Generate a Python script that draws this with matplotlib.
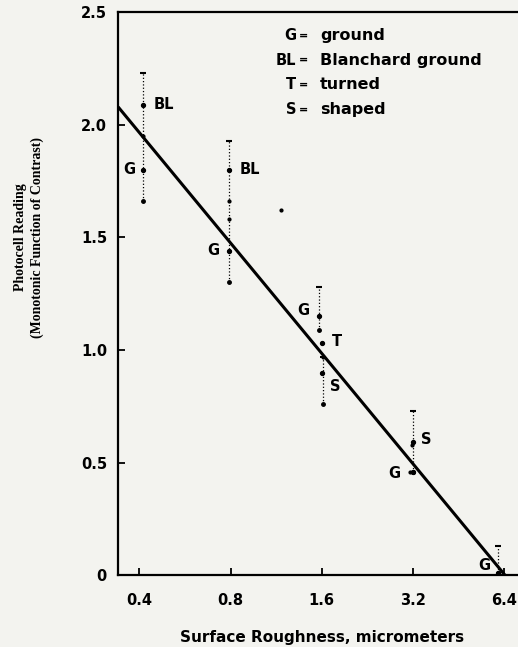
import numpy as np
import matplotlib.pyplot as plt

fit_x = [0.34, 6.45]
fit_y = [2.08, 0.0]

# Streubereiche je Gruppe
range_x = [0.41, 0.79, 1.57, 1.62, 3.2, 6.1]
range_lo = [1.66, 1.30, 1.09, 0.76, 0.46, 0.01]
range_hi = [2.23, 1.93, 1.28, 0.97, 0.73, 0.13]

# beschriftete Mittelwerte
pt_x = [0.41, 0.41, 0.79, 0.79, 1.57, 1.60, 1.60, 3.2, 3.2, 6.1]
pt_y = [2.09, 1.80, 1.80, 1.44, 1.15, 1.03, 0.90, 0.59, 0.46, 0.01]
pt_lab = ["BL", "G", "BL", "G", "G", "T", "S", "S", "G", "G"]
pt_off = [(8, 0), (-5, 0), (8, 0), (-7, 0), (-7, 4), (7, 1), (6, -10),
          (6, 2), (-9, -1), (-5, 5)]

# weitere Einzelpunkte
extra_x = [0.41, 0.79, 0.79, 1.17, 1.62, 3.17, 3.14]
extra_y = [1.95, 1.66, 1.58, 1.62, 0.97, 0.58, 0.46]

legend_codes = ["G", "BL", "T", "S"]
legend_names = ["ground", "Blanchard ground", "turned", "shaped"]

xticks = [0.4, 0.8, 1.6, 3.2, 6.4]
yticks = [0, 0.5, 1.0, 1.5, 2.0, 2.5]

sans = 'DejaVu Sans'
bg = '#f3f3ef'
fig = plt.figure(figsize=(5.18, 6.47), dpi=100, facecolor=bg)
ax = fig.add_axes([0.228, 0.111, 0.772, 0.870], facecolor=bg)

ax.set_xscale('log', base=2)
ax.set_xlim(0.34, 7.12)
ax.set_ylim(0, 2.5)

ax.plot(fit_x, fit_y, color='black', linewidth=2.2, solid_capstyle='butt')
ax.vlines(range_x, range_lo, range_hi, colors='black', linestyles=':', linewidth=0.9)
ax.plot(range_x, range_hi, '_', color='black', markersize=5, markeredgewidth=1.5)
ax.plot(range_x, range_lo, 'o', color='black', markersize=2.5)
ax.plot(pt_x, pt_y, 'o', color='black', markersize=2.8)
ax.plot(extra_x, extra_y, 'o', color='black', markersize=2.0)

for x, y, lab, off in zip(pt_x, pt_y, pt_lab, pt_off):
    ax.annotate(lab, (x, y), xytext=off, textcoords='offset points',
                ha='left' if off[0] > 0 else 'right', va='center',
                fontsize=10.5, fontweight='bold', family=sans)

# Legende als Text
for i, (c, n) in enumerate(zip(legend_codes, legend_names)):
    yy = 0.959 - i * 0.044
    ax.text(0.445, yy, c, transform=ax.transAxes, ha='right', va='center',
            fontsize=10.5, fontweight='bold', family=sans)
    ax.text(0.464, yy, "=", transform=ax.transAxes, ha='center', va='center',
            fontsize=8, fontweight='bold', family=sans)
    ax.text(0.505, yy, n, transform=ax.transAxes, ha='left', va='center',
            fontsize=11.5, fontweight='bold', family=sans)

ax.set_xticks(xticks)
ax.set_xticklabels([str(v) for v in xticks])
ax.xaxis.set_minor_locator(plt.NullLocator())
ax.set_yticks(yticks)
ax.set_yticklabels(["0", "0.5", "1.0", "1.5", "2.0", "2.5"])
ax.tick_params(direction='in', length=5, width=1.3, labelsize=10.5)
ax.tick_params(axis='x', pad=13)
ax.tick_params(axis='y', pad=8)
for lab in ax.get_xticklabels() + ax.get_yticklabels():
    lab.set_fontweight('bold')
    lab.set_family(sans)

for s in ['left', 'bottom', 'top']:
    ax.spines[s].set_linewidth(1.6)
ax.spines['right'].set_visible(False)

ax.set_xlabel("Surface Roughness, micrometers", fontsize=11, fontweight='bold',
              family=sans)
ax.xaxis.set_label_coords(0.51, -0.097)
ax.set_ylabel("Photocell Reading\n(Monotonic Function of Contrast)", fontsize=10,
              fontweight='bold', family='Liberation Serif', linespacing=1.4)
ax.yaxis.set_label_coords(-0.185, 0.60)

fig.savefig("out.png", dpi=100, facecolor=bg)
